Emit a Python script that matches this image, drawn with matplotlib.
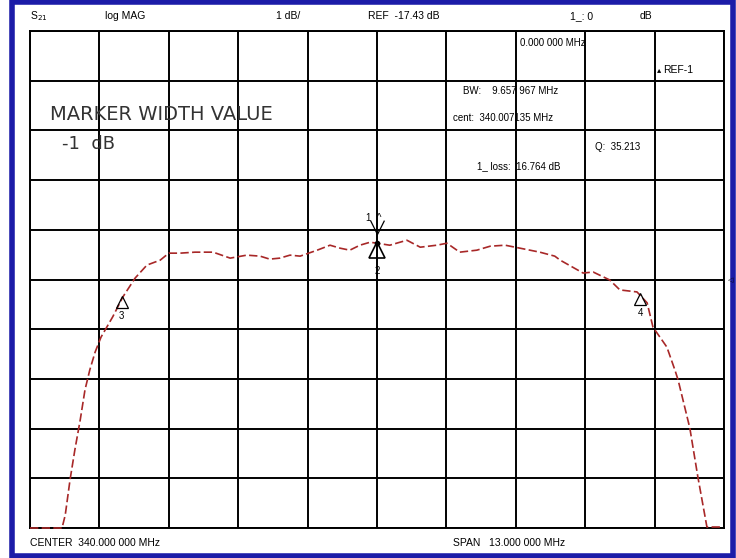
import numpy as np
import matplotlib.pyplot as plt
from matplotlib.patches import Rectangle
from matplotlib.path import Path
from matplotlib.transforms import ScaledTranslation

# S21 trace (MHz, dB)
freq = [333.50, 334.10, 334.16, 334.25, 334.34, 334.44, 334.53, 334.62, 334.72,
        334.83, 335.05, 335.24, 335.47, 335.69, 335.94, 336.10, 336.31, 336.59,
        336.93, 337.25, 337.56, 337.81, 337.99, 338.18, 338.37, 338.56, 338.88,
        339.12, 339.31, 339.49, 339.68, 339.87, 340.00, 340.24, 340.43, 340.56,
        340.81, 341.12, 341.31, 341.55, 341.87, 342.12, 342.40, 342.68, 343.05,
        343.33, 343.43, 343.86, 344.05, 344.36, 344.55, 344.87, 345.06, 345.17,
        345.43, 345.58, 345.64, 345.86, 346.01, 346.18, 346.48]
s21 = [-22.43, -22.43, -22.17, -21.46, -20.86, -20.26, -19.65, -19.25, -18.89,
       -18.59, -18.18, -17.78, -17.40, -17.14, -17.04, -16.90, -16.90, -16.88,
       -16.88, -17.00, -16.94, -16.96, -17.02, -17.00, -16.94, -16.96, -16.84,
       -16.74, -16.80, -16.84, -16.74, -16.68, -16.70, -16.74, -16.68, -16.64,
       -16.78, -16.74, -16.70, -16.88, -16.84, -16.76, -16.74, -16.80, -16.88,
       -16.96, -17.04, -17.30, -17.28, -17.44, -17.64, -17.68, -17.90, -18.39,
       -18.79, -19.25, -19.45, -20.42, -21.40, -22.41, -22.41]

# markers: label, freq, level
mk_labels = ["1", "2", "3", "4"]
mk_freq = [340.00, 340.00, 335.22, 344.93]
mk_level = [-16.70, -16.70, -17.78, -17.72]

CENTER = 340.0
SPAN = 13.0
REF = -17.43
SCALE = 1.0

W, H = 736, 558
fig = plt.figure(figsize=(W / 100, H / 100), dpi=100)
plt.rcParams['font.family'] = ['Liberation Sans', 'DejaVu Sans']

def fx(px):
    return px / W

def fy(py):
    return 1 - py / H

# blue outer frame
fig.patches.append(Rectangle((fx(12), fy(556)), (733 - 12) / W, (556 - 2) / H,
                             transform=fig.transFigure, fill=False,
                             edgecolor='#1c1ca8', lw=4))

ax = fig.add_axes([fx(30), fy(528), 694 / W, 497 / H])
x0, x1 = CENTER - SPAN / 2, CENTER + SPAN / 2
y0, y1 = REF - 5 * SCALE, REF + 5 * SCALE
ax.set_xlim(x0, x1)
ax.set_ylim(y0, y1)
ax.set_xticks(np.linspace(x0, x1, 11))
ax.set_yticks(np.linspace(y0, y1, 11))
ax.grid(True, color='black', lw=1.4)
ax.tick_params(length=0, labelbottom=False, labelleft=False)
for s in ax.spines.values():
    s.set_color('black')
    s.set_linewidth(1.4)

ax.plot(freq, s21, color='#a82828', lw=1.2, dashes=(5, 2), clip_on=False,
        zorder=5)

def shifted(dy_px):
    return ax.transData + ScaledTranslation(0, dy_px / 100, fig.dpi_scale_trans)

# marker 1: open V above the trace
vee = Path([(-0.5, 1.0), (0.0, 0.0), (0.5, 1.0)])
ax.plot([mk_freq[0]], [mk_level[0]], marker=vee, ms=20, mfc='none', mec='black',
        mew=0.9, linestyle='none', zorder=6, transform=shifted(9))
ax.plot([mk_freq[0]], [mk_level[0]], 'o', ms=3, color='black', zorder=6)
ax.annotate(mk_labels[0] + "  ^", xy=(mk_freq[0], mk_level[0]), xytext=(-2, 18),
            textcoords='offset points', ha='center', va='center', fontsize=7)

# marker 2: closed triangle below the trace
ax.plot([mk_freq[1]], [mk_level[1]], marker='^', ms=11, mfc='none', mec='black',
        mew=1.2, linestyle='none', zorder=6, transform=shifted(-7))
ax.annotate(mk_labels[1], xy=(mk_freq[1], mk_level[1]), xytext=(0, -20),
            textcoords='offset points', ha='center', va='center', fontsize=7)

# markers 3 and 4
for lab, f, lv in zip(mk_labels[2:], mk_freq[2:], mk_level[2:]):
    ax.plot([f], [lv], marker='^', ms=9, mfc='none', mec='black', mew=0.9,
            linestyle='none', zorder=6, transform=shifted(-5))
    ax.annotate(lab, xy=(f, lv), xytext=(0, -14), textcoords='offset points',
                ha='center', va='center', fontsize=7)

# header line
top = 16
fig.text(fx(30), fy(top), "S$_{21}$", fontsize=7.5, va='center')
fig.text(fx(105), fy(top), "log MAG", fontsize=7.5, va='center')
fig.text(fx(276), fy(top), "1 dB/", fontsize=7.5, va='center')
fig.text(fx(368), fy(top), "REF  -17.43 dB", fontsize=7.5, va='center')
fig.text(fx(570), fy(top), "1_: 0", fontsize=7.5, va='center')
fig.text(fx(640), fy(top), "dB", fontsize=7.5, va='center')

# marker readout
fig.text(fx(520), fy(43), "0.000 000 MHz", fontsize=7, va='center')
fig.text(fx(657), fy(71), "\u25b4", fontsize=6, va='center')
fig.text(fx(663), fy(70), "REF-1", fontsize=7.5, va='center')
fig.text(fx(463), fy(91), "BW:    9.657 967 MHz", fontsize=7, va='center')
fig.text(fx(453), fy(118), "cent:  340.007135 MHz", fontsize=7, va='center')
fig.text(fx(595), fy(147), "Q:  35.213", fontsize=7, va='center')
fig.text(fx(477), fy(166), "1_ loss:  16.764 dB", fontsize=7, va='center')

fig.text(fx(50), fy(115), "MARKER WIDTH VALUE", fontsize=14, va='center',
         color='#333333', family='DejaVu Sans')
fig.text(fx(62), fy(144), "-1  dB", fontsize=13, va='center', color='#333333',
         family='DejaVu Sans')

fig.text(fx(728), fy(281), "\u25c1", fontsize=5, va='center')

# footer
fig.text(fx(30), fy(543), "CENTER  340.000 000 MHz", fontsize=7.5, va='center')
fig.text(fx(453), fy(543), "SPAN   13.000 000 MHz", fontsize=7.5, va='center')

fig.savefig("out.png", dpi=100, facecolor='white')
